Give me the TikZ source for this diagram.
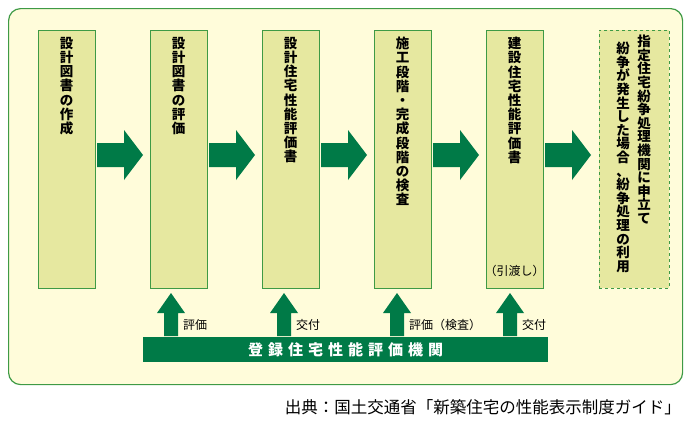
\documentclass[tikz,border=0pt]{standalone}
\usepackage{fontspec}
\newfontfamily\cjk{Noto Sans CJK JP}
\begin{document}
\begin{tikzpicture}[x=1pt,y=-1pt,
 box/.style={draw=boxline,fill=boxfill,line width=1.2pt},
 vt/.style={font=\cjk\bfseries\fontsize{13.5}{14.2}\selectfont,align=center,anchor=north,inner sep=0pt},
 arr/.style={fill=agreen,draw=none},
 lab/.style={font=\cjk\fontsize{12}{13}\selectfont,anchor=west,inner sep=0pt}]
\definecolor{boxfill}{HTML}{E6E8A0}
\definecolor{boxline}{HTML}{3E9A45}
\definecolor{agreen}{HTML}{007A47}
\definecolor{bg}{HTML}{FFFCDA}
\useasboundingbox (0,0) rectangle (690,423);
\node[draw=boxline,fill=bg,line width=1.2pt,rounded corners=12pt,minimum width=674,minimum height=376,anchor=north west,inner sep=0pt] (outer) at (8,8) {};
\foreach \n/\x in {b1/38,b2/150,b3/262,b4/374,b5/486}
  \node[box,minimum width=57,minimum height=258,anchor=north west,inner sep=0pt] (\n) at (\x,30) {};
\node[draw=boxline,fill=boxfill,dashed,line width=0.8pt,minimum width=70,minimum height=258,anchor=north west,inner sep=0pt] (b6) at (599,30) {};
\node[vt] (t1) at (66.5,37) {設\\計\\図\\書\\の\\作\\成};
\node[vt] (t2) at (178.5,37) {設\\計\\図\\書\\の\\評\\価};
\node[vt] (t3) at (290.5,37) {設\\計\\住\\宅\\性\\能\\評\\価\\書};
\node[vt] (t4) at (402.5,37) {施\\工\\段\\階\\・\\完\\成\\段\\階\\の\\検\\査};
\node[vt] (t5) at (514.5,37) {建\\設\\住\\宅\\性\\能\\評\\価\\書};
\node[font=\cjk\fontsize{12}{13}\selectfont,inner sep=0pt] (t5b) at (514.5,271) {（引渡し）};
\node[vt,font=\cjk\bfseries\fontsize{13.5}{13.6}\selectfont] (t6a) at (644,35) {指\\定\\住\\宅\\紛\\争\\処\\理\\機\\関\\に\\申\\立\\て};
\node[vt,font=\cjk\bfseries\fontsize{13.5}{13.6}\selectfont] (t6b) at (623,42) {紛\\争\\が\\発\\生\\し\\た\\場\\合\\、\\紛\\争\\処\\理\\の\\利\\用};
\foreach \a in {97,209,321,433,545}
  \fill[agreen] (\a,143) -- (\a+27,143) -- (\a+27,130) -- (\a+46,155) -- (\a+27,180) -- (\a+27,167) -- (\a,167) -- cycle;
\foreach \c in {171,284,397,510}
  \fill[agreen] (\c-7,336) -- (\c-7,313) -- (\c-14,313) -- (\c,293) -- (\c+14,313) -- (\c+7,313) -- (\c+7,336) -- cycle;
\node[lab] (l1) at (183,325) {評価};
\node[lab] (l2) at (296,325) {交付};
\node[lab] (l3) at (409,325) {評価（検査）};
\node[lab] (l4) at (522,325) {交付};
\node[fill=agreen,minimum width=405,minimum height=25,inner sep=0pt,anchor=north west,font=\cjk\bfseries\fontsize{15}{16}\selectfont,text=white] (bar) at (143,337) {登\,\,録\,\,住\,\,宅\,\,性\,\,能\,\,評\,\,価\,\,機\,\,関};
\node[font=\cjk\fontsize{16.5}{17}\selectfont,anchor=east,inner sep=0pt] (src) at (681,407) {出典：国土交通省「新築住宅の性能表示制度ガイド」};
\end{tikzpicture}
\end{document}
